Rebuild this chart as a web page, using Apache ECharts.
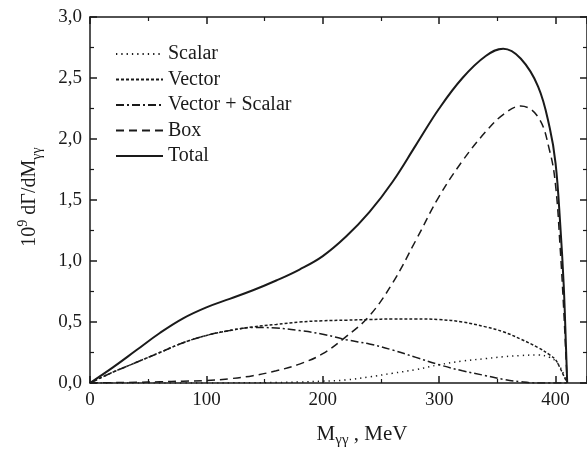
<!DOCTYPE html>
<html>
<head>
<meta charset="utf-8">
<script src="https://cdn.jsdelivr.net/npm/echarts@6/dist/echarts.min.js"></script>
<style>
  html, body { margin: 0; padding: 0; background: #fff; }
  #chart { width: 587px; height: 452px; }
</style>
</head>
<body>
<div id="chart"></div>
<script>
// M_gg grid (MeV) shared by all curves
var mGrid = [0, 20, 40, 60, 80, 100, 120, 140, 160, 180, 200, 220, 240, 260, 280, 300, 320, 340, 355, 370, 385, 395, 400, 404, 407, 409, 410];
var scalarVals = [0, 0, 0, 0, 0, 0, 0.001, 0.002, 0.004, 0.008, 0.015, 0.025, 0.05, 0.08, 0.11, 0.15, 0.18, 0.20, 0.215, 0.225, 0.23, 0.21, 0.18, 0.13, 0.07, 0.02, 0];
var vectorVals = [0, 0.09, 0.17, 0.25, 0.33, 0.39, 0.43, 0.46, 0.48, 0.50, 0.51, 0.515, 0.52, 0.525, 0.525, 0.52, 0.50, 0.46, 0.42, 0.36, 0.29, 0.23, 0.19, 0.12, 0.06, 0.02, 0];
var vecScalVals = [0, 0.09, 0.17, 0.25, 0.33, 0.39, 0.43, 0.455, 0.45, 0.43, 0.40, 0.355, 0.32, 0.27, 0.21, 0.15, 0.10, 0.06, 0.03, 0.01, 0, 0, 0, 0, 0, 0, 0];
var boxVals = [0, 0.003, 0.006, 0.01, 0.015, 0.02, 0.035, 0.06, 0.10, 0.155, 0.24, 0.38, 0.55, 0.82, 1.17, 1.53, 1.82, 2.06, 2.20, 2.27, 2.18, 1.90, 1.62, 1.10, 0.60, 0.20, 0];
var totalVals = [0, 0.13, 0.27, 0.41, 0.53, 0.62, 0.69, 0.76, 0.84, 0.93, 1.04, 1.20, 1.40, 1.65, 1.95, 2.25, 2.50, 2.68, 2.74, 2.66, 2.43, 2.09, 1.80, 1.30, 0.80, 0.28, 0];
var seriesNames = ["Scalar", "Vector", "Vector + Scalar", "Box", "Total"];

var ink = "#1a1a1a";
var serif = "Liberation Serif";

function pairs(ys) {
  return mGrid.map(function (m, i) { return [m, ys[i]]; });
}

function makeLine(name, ys, dash, width) {
  return {
    name: name,
    type: "line",
    data: pairs(ys),
    symbol: "none",
    smooth: 0.4,
    lineStyle: { color: ink, width: width, type: dash },
    itemStyle: { color: ink },
    z: 3
  };
}

var xCommon = {
  type: "value",
  min: 0,
  max: 427,
  interval: 100,
  axisLine: { onZero: false, lineStyle: { color: ink, width: 1.5 } },
  axisTick: { inside: true, length: 7, lineStyle: { color: ink, width: 1.5 } },
  minorTick: { show: true, splitNumber: 2, length: 4, lineStyle: { color: ink, width: 1.2 } },
  splitLine: { show: false }
};
var yCommon = {
  type: "value",
  min: 0,
  max: 3,
  interval: 0.5,
  axisLine: { onZero: false, lineStyle: { color: ink, width: 1.5 } },
  axisTick: { inside: true, length: 7, lineStyle: { color: ink, width: 1.5 } },
  minorTick: { show: true, splitNumber: 2, length: 4, lineStyle: { color: ink, width: 1.2 } },
  splitLine: { show: false }
};

var chart = echarts.init(document.getElementById("chart"));
var option = {
  animation: false,
  backgroundColor: "#fff",
  grid: { left: 90, top: 17, width: 500, height: 366 },
  legend: {
    orient: "vertical",
    left: 110,
    top: 39,
    itemWidth: 47,
    itemHeight: 14,
    itemGap: 5.5,
    data: seriesNames,
    itemStyle: { opacity: 0 },
    textStyle: { fontFamily: serif, fontSize: 20, color: ink },
    selectedMode: false
  },
  xAxis: [
    Object.assign({}, xCommon, {
      position: "bottom",
      axisLabel: {
        fontFamily: serif, fontSize: 19, color: ink, margin: 8,
        showMaxLabel: false,
        formatter: function (v) { return v % 100 === 0 ? String(v) : ""; }
      }
    }),
    Object.assign({}, xCommon, { position: "top", axisLabel: { show: false } })
  ],
  yAxis: [
    Object.assign({}, yCommon, {
      position: "left",
      axisLabel: {
        fontFamily: serif, fontSize: 19, color: ink, margin: 8,
        formatter: function (v) { return v.toFixed(1).replace(".", ","); }
      }
    }),
    Object.assign({}, yCommon, { position: "right", axisLabel: { show: false } })
  ],
  graphic: [
    {
      type: "text",
      x: 30,
      y: 197,
      rotation: Math.PI / 2,
      style: {
        text: "{n|10}{sup|9}{n| dΓ/dM}{sub|γγ}",
        align: "center",
        verticalAlign: "middle",
        fill: ink,
        rich: {
          n: { fontFamily: serif, fontSize: 20, lineHeight: 28, fill: ink },
          sup: { fontFamily: serif, fontSize: 14, verticalAlign: "top", fill: ink },
          sub: { fontFamily: serif, fontSize: 14, verticalAlign: "bottom", fill: ink }
        }
      }
    },
    {
      type: "text",
      x: 362,
      y: 434,
      style: {
        text: "{n|M}{sub|γγ}{n| , MeV}",
        align: "center",
        verticalAlign: "middle",
        fill: ink,
        rich: {
          n: { fontFamily: serif, fontSize: 21, lineHeight: 28, fill: ink },
          sub: { fontFamily: serif, fontSize: 15, verticalAlign: "bottom", fill: ink }
        }
      }
    }
  ],
  series: [
    makeLine(seriesNames[0], scalarVals, [1.3, 4], 1.5),
    makeLine(seriesNames[1], vectorVals, [3, 2], 1.5),
    makeLine(seriesNames[2], vecScalVals, [8, 3, 2, 3], 1.5),
    makeLine(seriesNames[3], boxVals, [8, 5], 1.5),
    makeLine(seriesNames[4], totalVals, "solid", 2)
  ]
};
chart.setOption(option);
</script>
</body>
</html>
